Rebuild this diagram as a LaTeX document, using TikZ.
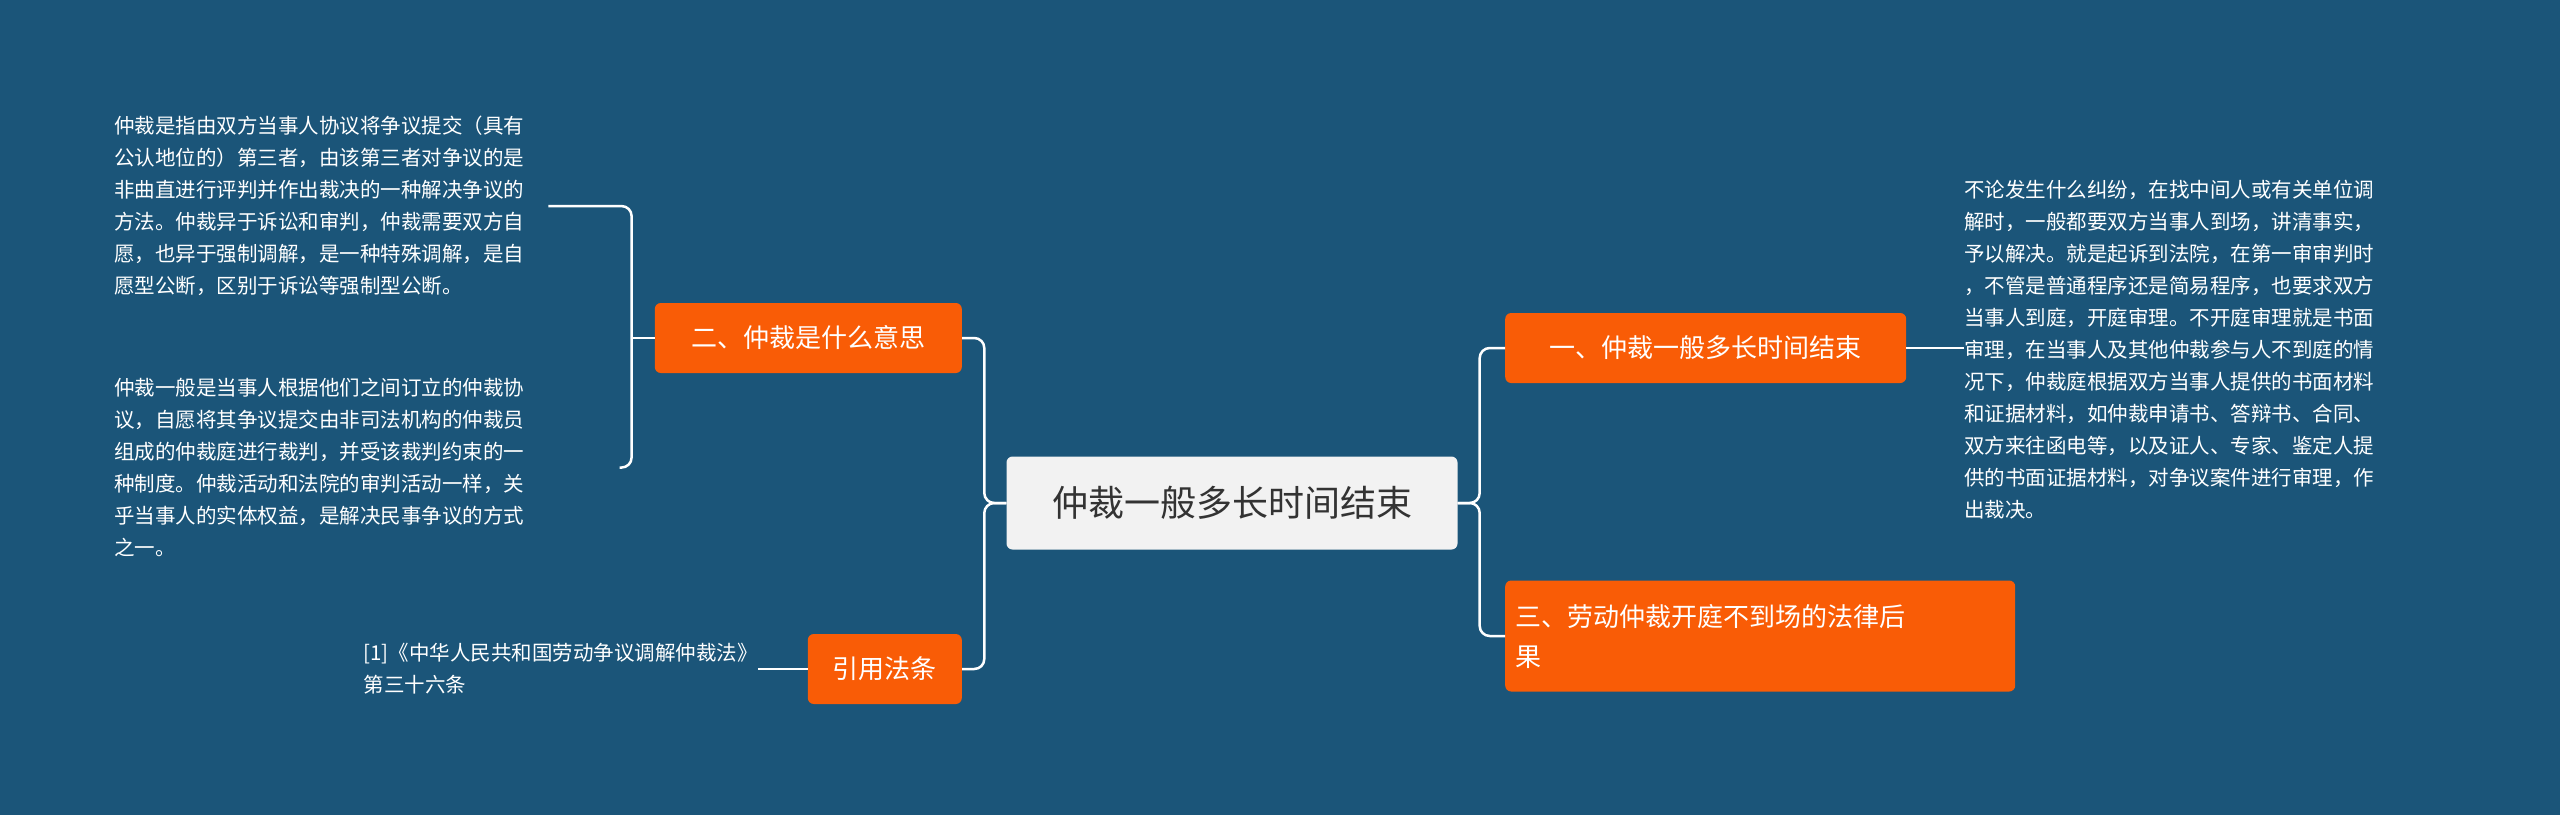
\documentclass[tikz,border=0pt]{standalone}
\usepackage{fontspec}
\setmainfont{Noto Sans CJK SC}
\XeTeXlinebreaklocale "zh"
\usetikzlibrary{positioning,calc}
\definecolor{bgblue}{HTML}{1B5579}
\definecolor{branchorange}{HTML}{F95C06}
\definecolor{rootgray}{HTML}{F2F2F2}
\definecolor{roottext}{HTML}{333333}
\tikzset{
  root/.style = {rectangle, fill=rootgray, text=roottext, rounded corners=6pt, minimum width=451pt, minimum height=93pt, font=\fontsize{36}{40}\selectfont},
  branch/.style = {rectangle, fill=branchorange, text=white, rounded corners=6pt, inner xsep=10pt, minimum height=70pt, font=\fontsize{26}{40}\selectfont, align=left},
  note/.style = {inner sep=0pt, text=white, align=left, font=\fontsize{20.5}{32}\selectfont},
  edge/.style = {draw=white, line width=2.5pt, rounded corners=10pt}
}
\begin{document}
\begin{tikzpicture}[x=1pt, y=-1pt]
	\fill[bgblue] (0,0) rectangle (2560,815);
	\useasboundingbox (0,0) rectangle (2560,815);
	
	% Root
	\node[root] (Root) at (1232,503) {仲裁一般多长时间结束};
	
	% Left side
	\node[branch, anchor=east, minimum width=307pt] (Meaning) at (962,338) {二、仲裁是什么意思};
	\node[branch, anchor=east, minimum width=154pt] (Citation) at (962,669) {引用法条};
	\node[note, anchor=north west] (MeaningA) at (114,116) {仲裁是指由双方当事人协议将争议提交（具有\\公认地位的）第三者，由该第三者对争议的是\\非曲直进行评判并作出裁决的一种解决争议的\\方法。仲裁异于诉讼和审判，仲裁需要双方自\\愿，也异于强制调解，是一种特殊调解，是自\\愿型公断，区别于诉讼等强制型公断。};
	\node[note, anchor=north west] (MeaningB) at (114,378) {仲裁一般是当事人根据他们之间订立的仲裁协\\议，自愿将其争议提交由非司法机构的仲裁员\\组成的仲裁庭进行裁判，并受该裁判约束的一\\种制度。仲裁活动和法院的审判活动一样，关\\乎当事人的实体权益，是解决民事争议的方式\\之一。};
	\node[note, anchor=east] (LawText) at (758,669) {[1]《中华人民共和国劳动争议调解仲裁法》\\第三十六条};
	
	% Right side
	\node[branch, anchor=west, minimum width=401pt] (Duration) at (1505,348) {一、仲裁一般多长时间结束};
	\node[branch, anchor=west, text width=490pt, minimum height=111pt] (Absence) at (1505,636) {三、劳动仲裁开庭不到场的法律后\\果};
	\node[note, anchor=north west] (DurationText) at (1964,180) {不论发生什么纠纷，在找中间人或有关单位调\\解时，一般都要双方当事人到场，讲清事实，\\予以解决。就是起诉到法院，在第一审审判时\\，不管是普通程序还是简易程序，也要求双方\\当事人到庭，开庭审理。不开庭审理就是书面\\审理，在当事人及其他仲裁参与人不到庭的情\\况下，仲裁庭根据双方当事人提供的书面材料\\和证据材料，如仲裁申请书、答辩书、合同、\\双方来往函电等，以及证人、专家、鉴定人提\\供的书面证据材料，对争议案件进行审理，作\\出裁决。};
	
	% Paths
	\draw[edge] (Root.west) -- ++(-22,0) |- (Meaning.east);
	\draw[edge] (Root.west) -- ++(-22,0) |- (Citation.east);
	\draw[edge] (Root.east) -- ++(22,0) |- (Duration.east -| Duration.west);
	\draw[edge] (Root.east) -- ++(22,0) |- (Absence.west);
	\draw[edge] (Meaning.west) -- ++(-23,0) coordinate (Brace);
	\draw[edge] (MeaningA.east) ++(24,0) -- (Brace |- MeaningA.east) -- (Brace |- MeaningB.east) -- ++(-12,0);
	\draw[edge] (Citation.west) -- (LawText.east);
	\draw[edge] (Duration.east) -- (DurationText.west |- Duration.east);
\end{tikzpicture}
\end{document}
